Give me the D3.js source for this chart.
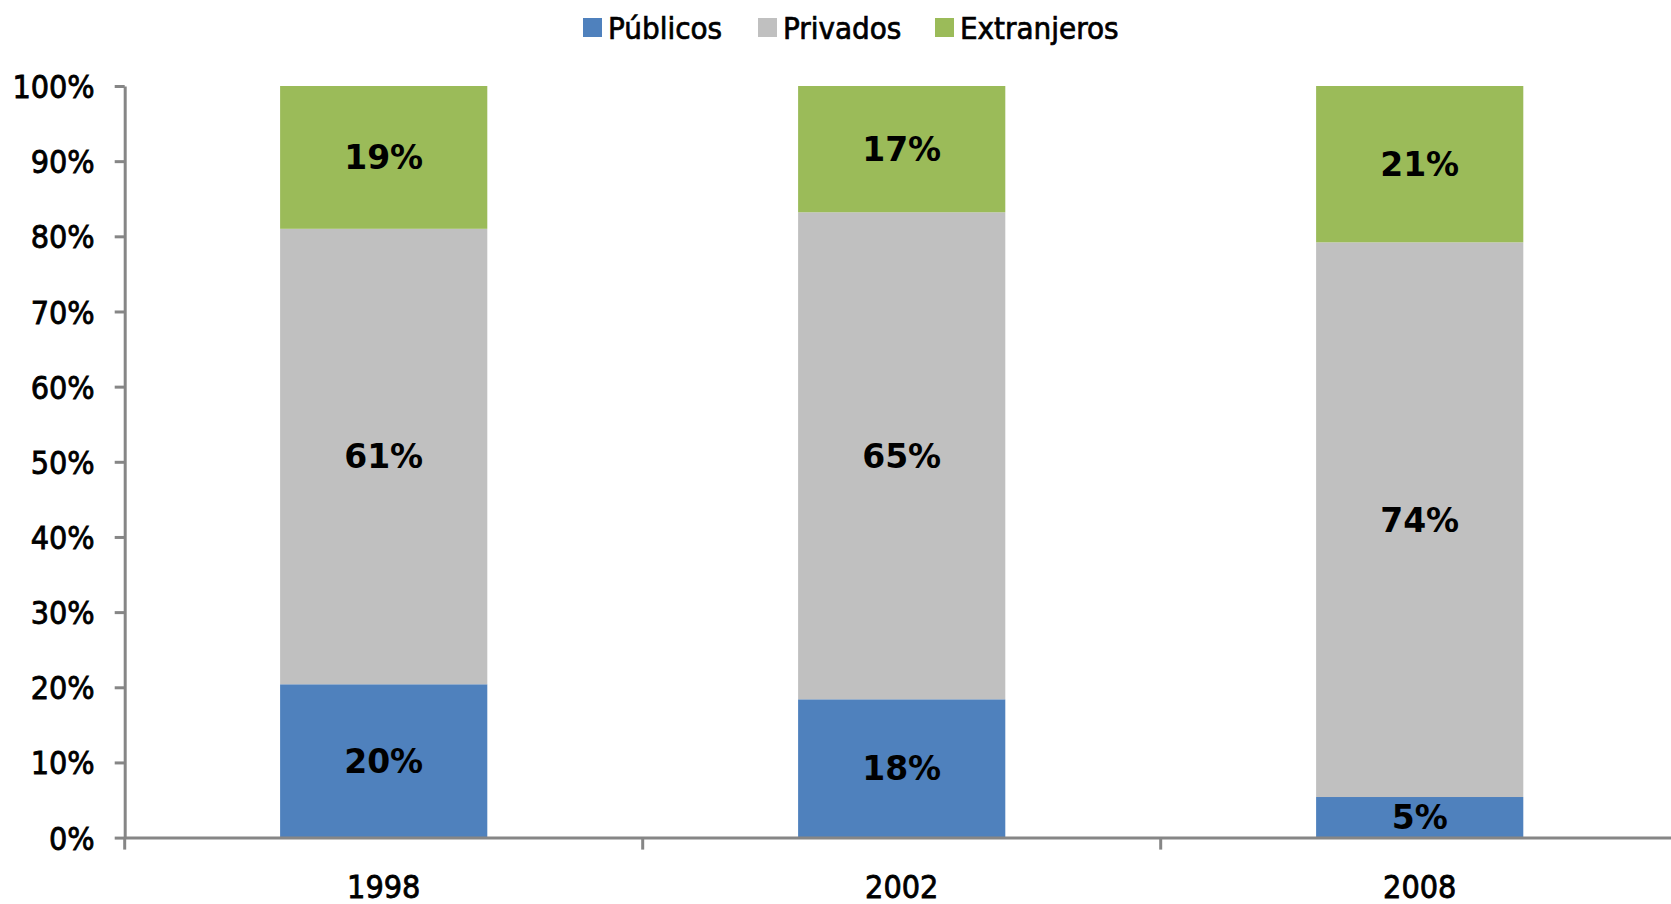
<!DOCTYPE html>
<html lang="es">
<head>
<meta charset="UTF-8">
<title>Públicos / Privados / Extranjeros</title>
<script src="https://d3js.org/d3.v7.min.js"></script>
<style>
    body { margin: 0; background: #fff; }
    .axis-label { font-family: "DejaVu Sans Condensed", "DejaVu Sans", sans-serif; font-size: 32px; fill: #000; stroke: #000; stroke-width: 0.8px; }
    .legend-text { font-family: "DejaVu Sans Condensed", "DejaVu Sans", sans-serif; font-size: 31px; fill: #000; stroke: #000; stroke-width: 0.7px; }
    .value { font-family: "DejaVu Sans", sans-serif; font-weight: bold; font-size: 33px; fill: #000; }
</style>
</head>
<body>
<div id="chart"></div>
<script>
    // data
    const years = ["1998", "2002", "2008"];
    const publicos = [20.4, 18.4, 5.4];
    const privados = [60.6, 64.8, 73.8];
    const extranjeros = [19.0, 16.8, 20.8];
    const seriesNames = ["Públicos", "Privados", "Extranjeros"];
    const yTicks = [0, 10, 20, 30, 40, 50, 60, 70, 80, 90, 100];

    const colors = ["#4F81BD", "#C0C0C0", "#9BBB59"];

    const width = 1671, height = 904;
    const margin = { left: 124.7, top: 86, bottom: 66.4 };
    const bandW = 518;

    const svg = d3.select("#chart").append("svg")
        .attr("width", width)
        .attr("height", height);

    const x = d3.scaleBand()
        .domain(years)
        .range([margin.left, margin.left + bandW * years.length])
        .paddingInner(0.6)
        .paddingOuter(0.3);

    const y = d3.scaleLinear()
        .domain([0, 100])
        .range([height - margin.bottom, margin.top]);

    // stacked rows
    const rows = years.map((yr, i) => ({
        year: yr,
        "Públicos": publicos[i],
        "Privados": privados[i],
        "Extranjeros": extranjeros[i]
    }));
    const stacked = d3.stack().keys(seriesNames)(rows);

    const layers = svg.selectAll("g.layer")
        .data(stacked)
        .enter()
        .append("g")
        .attr("class", "layer")
        .attr("fill", (d, i) => colors[i]);

    layers.selectAll("rect")
        .data(d => d)
        .enter()
        .append("rect")
        .attr("x", d => x(d.data.year))
        .attr("width", x.bandwidth())
        .attr("y", d => y(d[1]))
        .attr("height", d => y(d[0]) - y(d[1]));

    layers.selectAll("text")
        .data(d => d)
        .enter()
        .append("text")
        .attr("class", "value")
        .attr("x", d => x(d.data.year) + x.bandwidth() / 2)
        .attr("y", d => (y(d[0]) + y(d[1])) / 2)
        .attr("dy", "0.36em")
        .attr("text-anchor", "middle")
        .text(d => Math.round(d[1] - d[0]) + "%");

    // y axis
    const yAxis = svg.append("g")
        .attr("transform", `translate(${margin.left},0)`)
        .call(d3.axisLeft(y).tickValues(yTicks).tickSize(10).tickSizeOuter(0).tickFormat(d => d + "%"));
    yAxis.select(".domain").attr("stroke", "#868686").attr("stroke-width", 3);
    yAxis.selectAll(".tick line").attr("stroke", "#868686").attr("stroke-width", 3);
    yAxis.selectAll(".tick text")
        .attr("class", "axis-label")
        .attr("x", -30)
        .attr("dy", "0.36em")
        .attr("font-family", null).attr("font-size", null);

    // x axis
    const xAxis = svg.append("g")
        .attr("transform", `translate(0,${y(0)})`)
        .call(d3.axisBottom(x).tickSize(0).tickSizeOuter(0));
    xAxis.select(".domain").attr("stroke", "#868686").attr("stroke-width", 3);
    xAxis.selectAll(".tick text")
        .attr("class", "axis-label")
        .attr("y", 49)
        .attr("dy", "0.36em")
        .attr("font-family", null).attr("font-size", null);

    // category separators
    const sep = d3.range(years.length + 1).map(i => margin.left + i * bandW);
    svg.append("g").selectAll("line")
        .data(sep)
        .enter()
        .append("line")
        .attr("x1", d => d).attr("x2", d => d)
        .attr("y1", y(0)).attr("y2", y(0) + 12)
        .attr("stroke", "#868686")
        .attr("stroke-width", 3);

    // legend
    const legendX = [583, 758, 935];
    const legend = svg.append("g");
    const item = legend.selectAll("g")
        .data(seriesNames)
        .enter()
        .append("g")
        .attr("transform", (d, i) => `translate(${legendX[i]},18)`);
    item.append("rect")
        .attr("width", 19).attr("height", 19)
        .attr("fill", (d, i) => colors[i]);
    item.append("text")
        .attr("class", "legend-text")
        .attr("x", 25)
        .attr("y", 10)
        .attr("dy", "0.36em")
        .text(d => d);
</script>
</body>
</html>
